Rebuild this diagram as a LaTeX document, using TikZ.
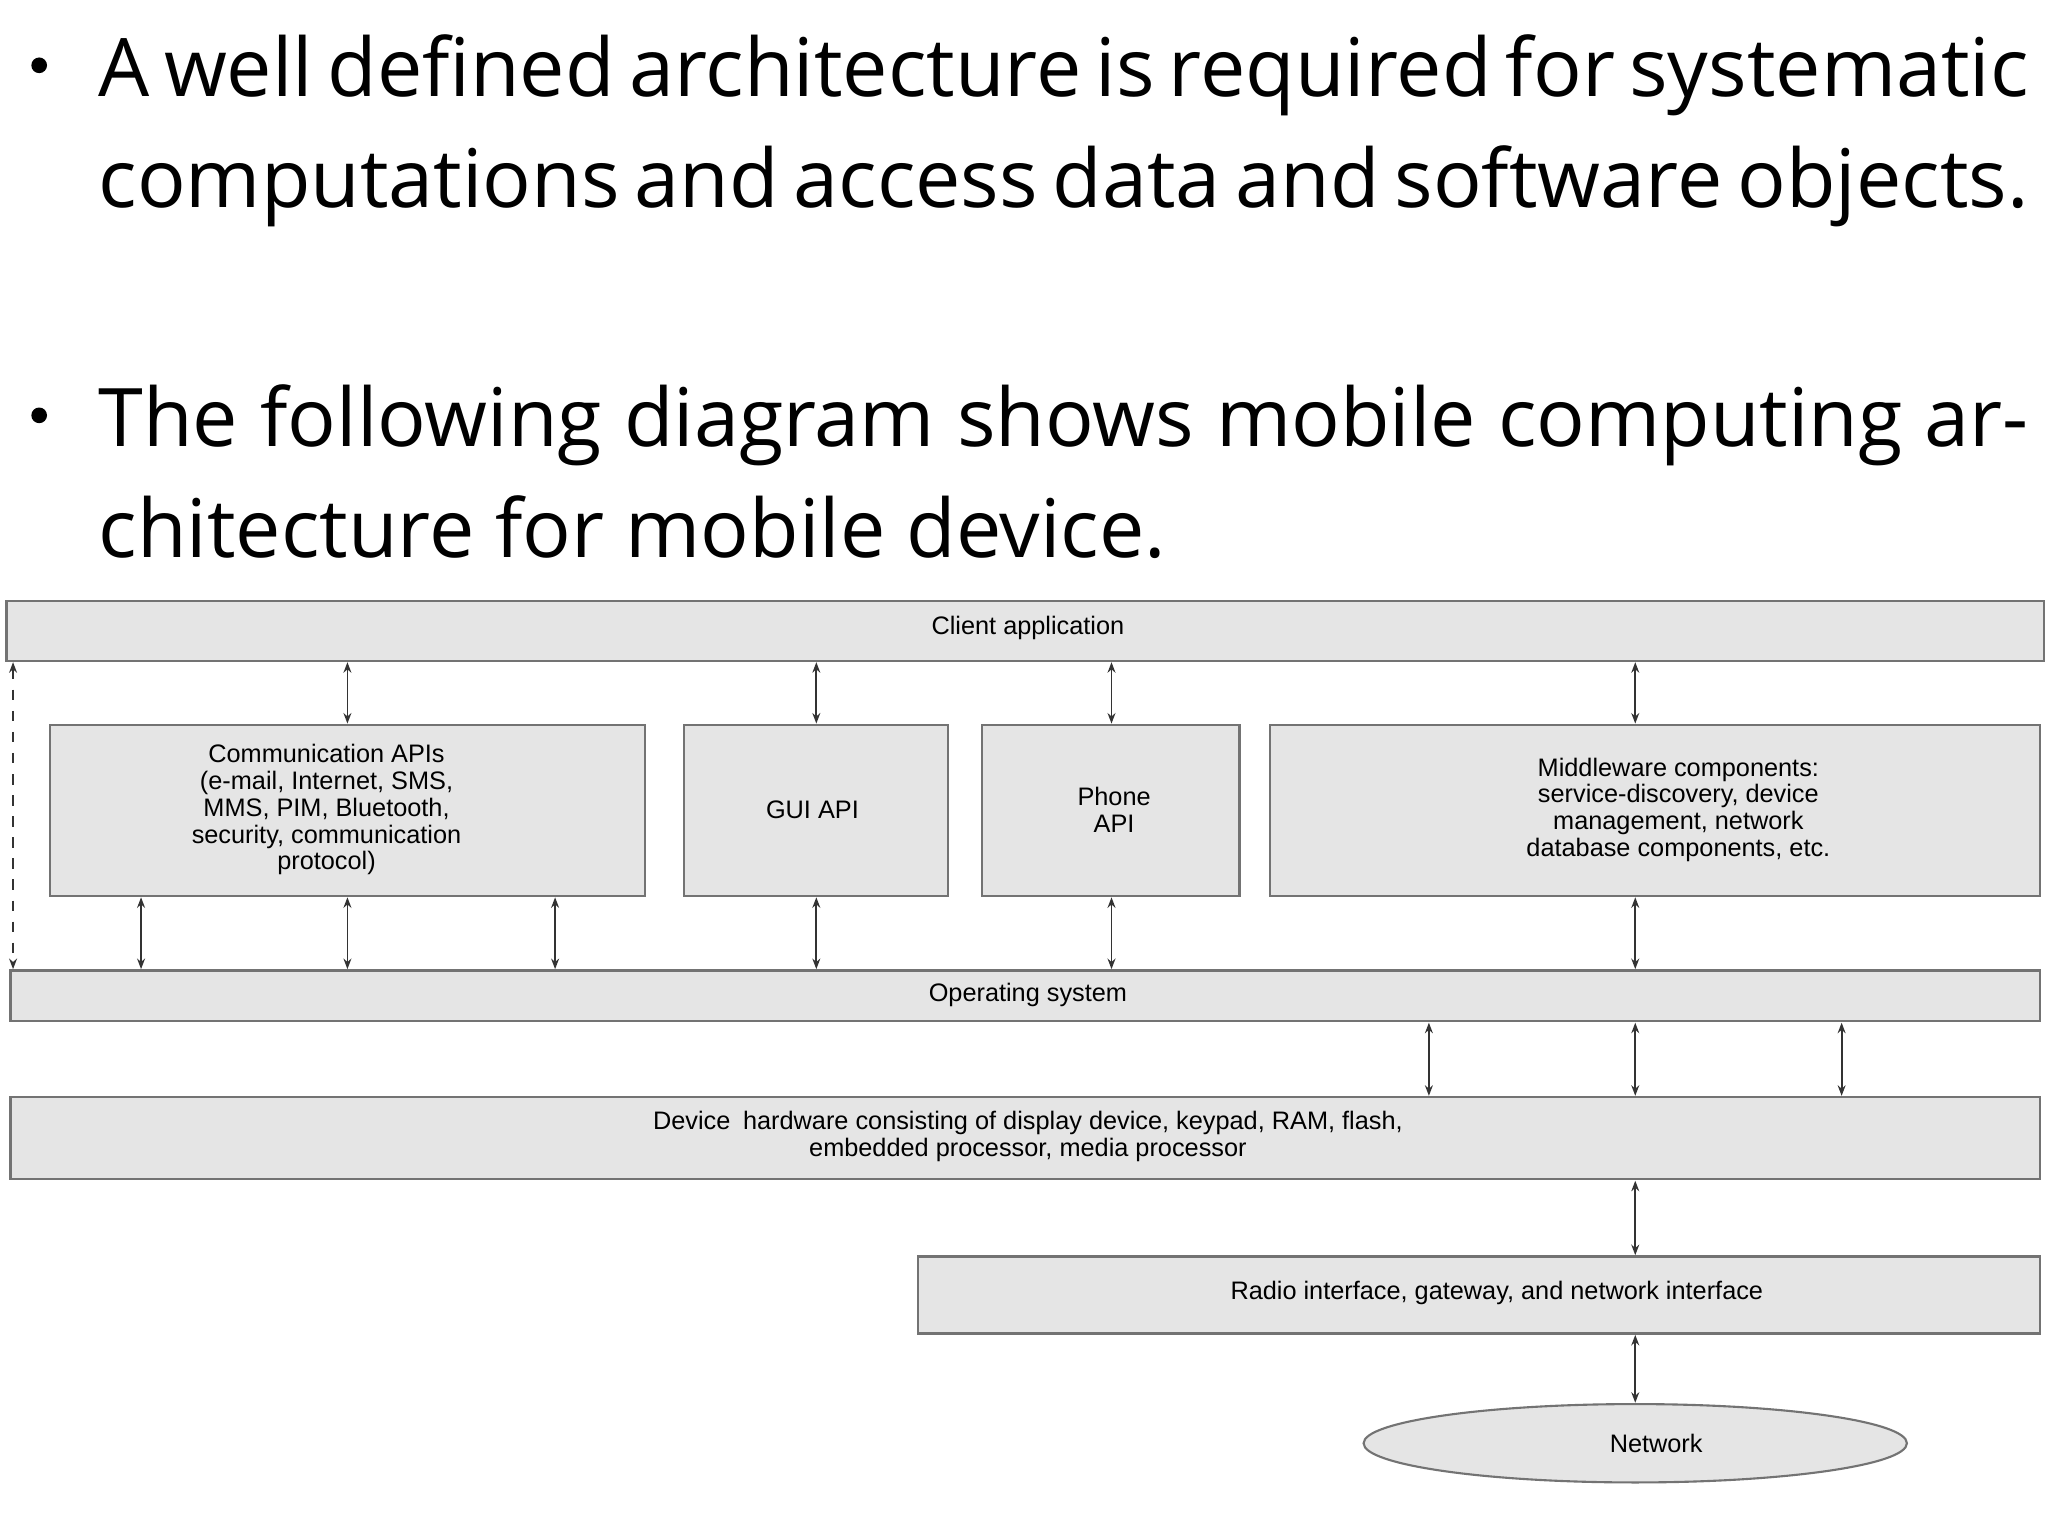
\documentclass[tikz,border=0pt]{standalone}
\usepackage{fontspec}
\setmainfont{Open Sans}
\newfontfamily\diag{Liberation Sans}
\usetikzlibrary{shapes.geometric,arrows.meta}
\begin{document}
\begin{tikzpicture}[x=0.013061cm,y=-0.013061cm,
 box/.style={draw=black!55,fill=black!10,line width=0.6pt},
 lbl/.style={font=\diag\fontsize{7.2}{7.6}\selectfont,align=center},
 dar/.style={{Stealth[length=3pt]}-{Stealth[length=3pt]},line width=0.5pt,draw=black!80},
 bul/.style={anchor=north west,text width=19.3cm,align=justify,font=\fontsize{23}{31.5}\selectfont,inner sep=0pt}]
\useasboundingbox[fill=white] (0,0) rectangle (1568,1176);
\node[bul] (t1) at (75,26) {\hyphenpenalty=10000\exhyphenpenalty=10000 A well defined architecture is required for systematic computations and access data and software objects.};
\node[bul] (t2) at (75,294) {\hyphenpenalty=10000\exhyphenpenalty=10000 The following diagram shows mobile computing architecture for mobile device.};
\fill (30,50) circle (6);
\fill (30,318) circle (6);
\draw[box] (5,460) rectangle (1565,506); \node[lbl] (ca) at (787,481) {Client application};
\draw[box] (38,555) rectangle (494,686); \node[lbl] (cm) at (250,620) {Communication APIs\\(e-mail, Internet, SMS,\\MMS, PIM, Bluetooth,\\security, communication\\protocol)};
\draw[box] (524,555) rectangle (726,686); \node[lbl] (gui) at (622,620) {GUI API};
\draw[box] (752,555) rectangle (949,686); \node[lbl] (ph) at (853,620) {Phone\\API};
\draw[box] (972,555) rectangle (1562,686); \node[lbl] (mw) at (1285,620) {Middleware components:\\service-discovery, device\\management, network\\database components, etc.};
\draw[box] (8,743) rectangle (1562,782); \node[lbl] (os) at (787,762) {Operating system};
\draw[box] (8,840) rectangle (1562,903); \node[lbl] (dh) at (787,870) {Device\enspace hardware consisting of display device, keypad, RAM, flash,\\embedded processor, media processor};
\draw[box] (703,962) rectangle (1562,1021); \node[lbl] (rd) at (1146,990) {Radio interface, gateway, and network interface};
\draw[box] (1252,1105) ellipse [x radius=208,y radius=30];
\node[lbl] (nt) at (1268,1105) {Network};
\foreach \x in {266,625,851,1252} \draw[dar] (\x,507) -- (\x,554);
\foreach \x in {108,266,425,625,851,1252} \draw[dar] (\x,687) -- (\x,742);
\foreach \x in {1094,1252,1410} \draw[dar] (\x,783) -- (\x,839);
\draw[dar] (1252,904) -- (1252,961);
\draw[dar] (1252,1022) -- (1252,1074);
\draw[dar,dashed] (10,507) -- (10,742);
\end{tikzpicture}
\end{document}
